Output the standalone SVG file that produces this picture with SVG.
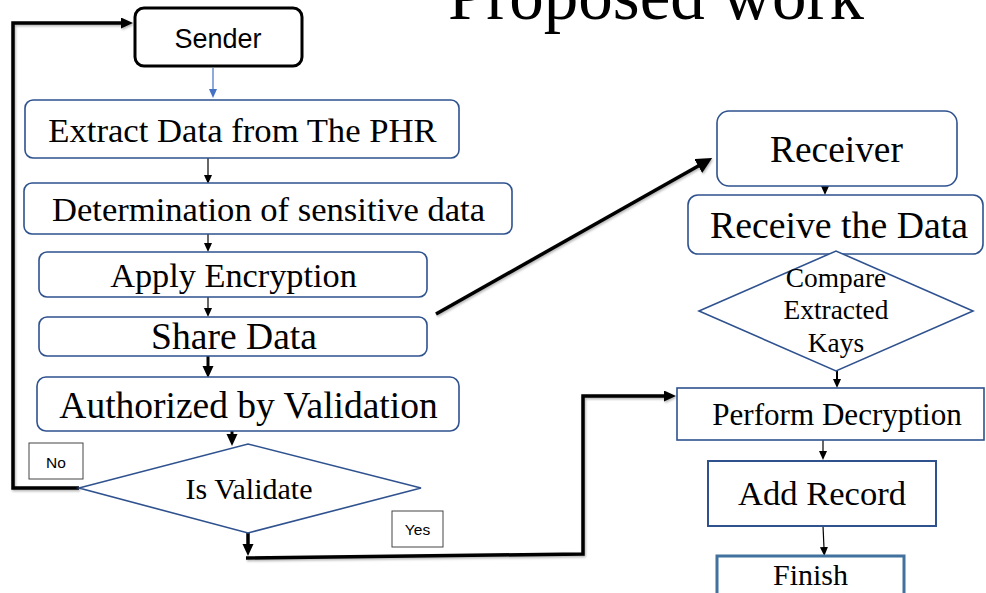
<svg xmlns="http://www.w3.org/2000/svg" width="986" height="593" viewBox="0 0 986 593">
<style>
.bx{fill:#fff;stroke:#2F528F;stroke-width:1.6}
.t{font-family:"Liberation Serif","Times New Roman",serif;fill:#000;text-anchor:middle}
.s{font-family:"Liberation Sans",Arial,sans-serif;fill:#000;text-anchor:middle}
.thin{fill:none;stroke:#000;stroke-width:1.2}
.thick{fill:none;stroke:#000;stroke-width:3.5;filter:url(#sh)}
.lbl{fill:#fff;stroke:#444;stroke-width:1}
</style>
<defs>
<filter id="sh" x="-20%" y="-20%" width="140%" height="140%">
<feDropShadow dx="1" dy="1.5" stdDeviation="1" flood-color="#000" flood-opacity="0.3"/>
</filter>
<marker id="aT" markerUnits="userSpaceOnUse" markerWidth="12" markerHeight="12" refX="1" refY="4" orient="auto"><path d="M0,0 L9,4 L0,8 z" fill="#000"/></marker>
<marker id="aB" markerUnits="userSpaceOnUse" markerWidth="12" markerHeight="12" refX="1" refY="4" orient="auto"><path d="M0,0 L9,4 L0,8 z" fill="#4472C4"/></marker>
<marker id="aM" markerUnits="userSpaceOnUse" markerWidth="14" markerHeight="14" refX="2" refY="5.5" orient="auto"><path d="M0,0 L12,5.5 L0,11 z" fill="#000"/></marker>
<marker id="aL" markerUnits="userSpaceOnUse" markerWidth="18" markerHeight="18" refX="2" refY="8" orient="auto"><path d="M0,0 L16,8 L0,16 z" fill="#000"/></marker>
</defs>

<text class="t" x="448" y="19" font-size="69" text-anchor="start" style="text-anchor:start">Proposed work</text>

<g id="connectors">
<line x1="213" y1="68" x2="213" y2="90" stroke="#4472C4" stroke-width="1.2" marker-end="url(#aB)"/>
<line class="thin" x1="208" y1="156" x2="208" y2="176" marker-end="url(#aT)"/>
<line class="thin" x1="208" y1="234" x2="208" y2="244" marker-end="url(#aT)"/>
<line class="thin" x1="208" y1="294" x2="208" y2="309" marker-end="url(#aT)"/>
<line x1="208" y1="356" x2="208" y2="368" stroke="#000" stroke-width="3" marker-end="url(#aM)"/>
<line x1="232" y1="431" x2="232" y2="436" stroke="#000" stroke-width="3" marker-end="url(#aM)"/>
<polyline class="thick" points="79,488 13,488 13,23 123,23" marker-end="url(#aM)"/>
<line x1="248" y1="533" x2="248" y2="546" stroke="#000" stroke-width="3.5" marker-end="url(#aM)"/>
<polyline class="thick" points="246,558 583,554 583,396 666,396" marker-end="url(#aM)"/>
<line class="thick" x1="436" y1="314" x2="700" y2="165" stroke-width="4.5" marker-end="url(#aL)"/>
<line class="thin" x1="825" y1="166" x2="825" y2="187" marker-end="url(#aT)"/>
<line x1="837" y1="371" x2="837" y2="380" stroke="#000" stroke-width="2" marker-end="url(#aT)"/>
<line class="thin" x1="823" y1="440" x2="823" y2="452" marker-end="url(#aT)"/>
<line class="thin" x1="823" y1="526" x2="824" y2="548" marker-end="url(#aT)"/>
</g>

<g id="sender">
<rect x="135" y="8" width="167" height="58" rx="9" fill="#fff" stroke="#000" stroke-width="3"/>
<text class="s" x="218" y="48" font-size="27">Sender</text>
</g>
<g id="extract">
<rect class="bx" x="25" y="100" width="434" height="58" rx="8"/>
<text class="t" x="242.5" y="142" font-size="34.7">Extract Data from The PHR</text>
</g>
<g id="determination">
<rect class="bx" x="24" y="183" width="488" height="51" rx="8"/>
<text class="t" x="268.5" y="221" font-size="34.6">Determination of sensitive data</text>
</g>
<g id="encrypt">
<rect class="bx" x="39" y="252" width="388" height="45" rx="8"/>
<text class="t" x="233.5" y="287" font-size="34.3">Apply Encryption</text>
</g>
<g id="share">
<rect class="bx" x="39" y="317" width="388" height="39" rx="8"/>
<text class="t" x="234" y="349" font-size="37.6">Share Data</text>
</g>
<g id="authorized">
<rect class="bx" x="37" y="377" width="422" height="54" rx="9"/>
<text class="t" x="248.5" y="418" font-size="37.5">Authorized by Validation</text>
</g>
<g id="isvalidate">
<polygon class="bx" points="79,488 248,444 421,488 248,533"/>
<text class="t" x="249" y="499" font-size="30">Is Validate</text>
</g>
<g id="no">
<rect class="lbl" x="29" y="443" width="54" height="36"/>
<text class="s" x="56" y="468" font-size="15.5">No</text>
</g>
<g id="yes">
<rect class="lbl" x="392" y="511" width="51" height="36"/>
<text class="s" x="417.5" y="535" font-size="15.5">Yes</text>
</g>
<g id="receiver">
<rect class="bx" x="717" y="111" width="240" height="75" rx="12"/>
<text class="t" x="836.5" y="162" font-size="37.4">Receiver</text>
</g>
<g id="receive">
<rect class="bx" x="688" y="195" width="295" height="59" rx="10"/>
<text class="t" x="839" y="238" font-size="37.8">Receive the Data</text>
</g>
<g id="compare">
<polygon class="bx" points="699,311 836,251 973,311 836,371"/>
<text class="t" x="836" y="287" font-size="27.4">Compare</text>
<text class="t" x="836" y="319" font-size="27.4">Extracted</text>
<text class="t" x="836" y="352" font-size="27.4">Kays</text>
</g>
<g id="decrypt">
<rect class="bx" x="677" y="388" width="307" height="52"/>
<text class="t" x="837" y="425" font-size="31.1">Perform Decryption</text>
</g>
<g id="addrecord">
<rect class="bx" x="708" y="461" width="228" height="65" style="stroke-width:2"/>
<text class="t" x="822" y="505" font-size="34.6">Add Record</text>
</g>
<g id="finish">
<rect x="717" y="556" width="187" height="50" fill="#fff" stroke="#41719C" stroke-width="3"/>
<text class="t" x="810.5" y="585" font-size="30">Finish</text>
</g>
</svg>
